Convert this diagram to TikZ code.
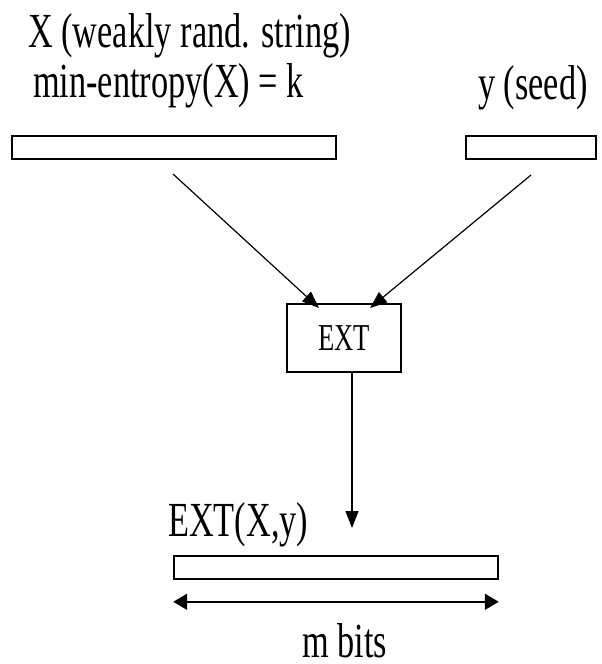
\documentclass[tikz,border=0pt]{standalone}
\usepackage{fontspec}
\setmainfont{Liberation Serif}[FakeStretch=0.7]
\usetikzlibrary{arrows.meta}
\begin{document}
\begin{tikzpicture}[x=1pt,y=-1pt,
    bar/.style={draw,line width=1.6pt,inner sep=0pt,minimum height=23pt},
    lbl/.style={inner sep=0pt,anchor=base west,font=\fontsize{49}{52}\selectfont},
    feed/.style={line width=1.2pt,-{Triangle[length=17pt,width=13pt]}},
    span/.style={line width=1.6pt,{Triangle[length=14pt,width=16pt]}-{Triangle[length=14pt,width=16pt]}}]
    \useasboundingbox (0,0) rectangle (602,664);
    \node[lbl] (xname) at (28,47) {X (weakly rand. string)};
    \node[lbl] (xentropy) at (33,97) {min-entropy(X) = k};
    \node[lbl] (yname) at (478,99) {y (seed)};
    \node[bar,minimum width=324pt] (xbar) at (174,147.5) {};
    \node[bar,minimum width=130pt] (ybar) at (531,147.5) {};
    \node[draw,line width=1.2pt,minimum width=114pt,minimum height=68pt,
          font=\fontsize{38}{40}\selectfont] (ext) at (344,338) {EXT};
    \node[bar,minimum width=324pt] (outbar) at (336,567.5) {};
    \node[lbl] (outname) at (168,536) {EXT(X,y)};
    \node[lbl,text depth=0pt] (mbits) at (302,657) {m bits};
    \coordinate (xout) at (173,174);
    \coordinate (yout) at (531,175);
    \coordinate (xin) at (319,308);
    \coordinate (yin) at (370,308);
    \coordinate (outin) at (352,528);
    \draw[feed] (xout) -- (xin);
    \draw[feed] (yout) -- (yin);
    \draw[feed] ([xshift=8pt]ext.south) -- (outin);
    \draw[span] ([yshift=-22pt]outbar.south west) -- ([yshift=-22pt]outbar.south east);
\end{tikzpicture}
\end{document}
